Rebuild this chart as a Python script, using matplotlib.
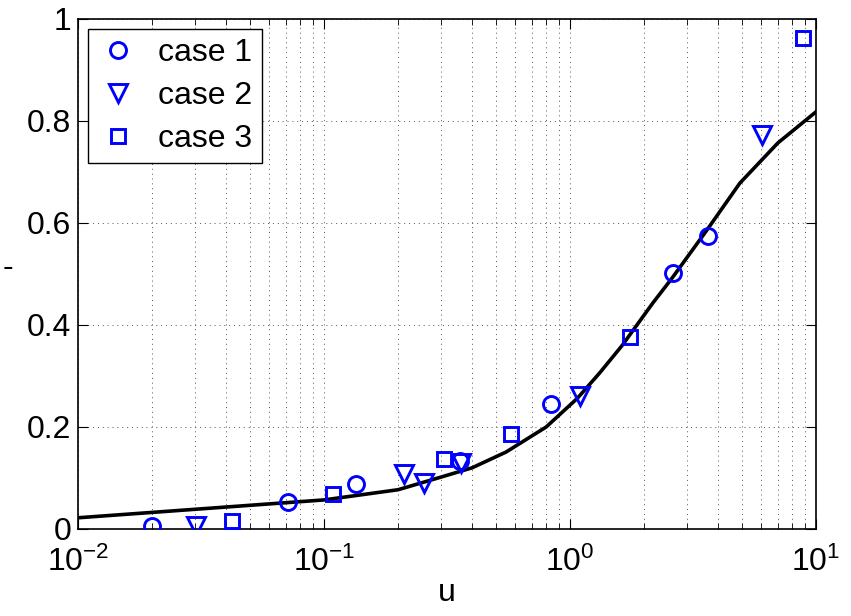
import numpy as np
import matplotlib
matplotlib.use("Agg")
import matplotlib.pyplot as plt
from matplotlib.ticker import LogLocator, NullFormatter

# ===================================================================
# Data
# ===================================================================

case1_u = [0.020, 0.0715, 0.135, 0.357, 0.837, 2.62, 3.64]
case1_y = [0.006, 0.053, 0.088, 0.133, 0.245, 0.502, 0.575]

case2_u = [0.0302, 0.211, 0.255, 0.360, 1.10, 6.03]
case2_y = [0.006, 0.108, 0.090, 0.130, 0.260, 0.773]

case3_u = [0.0423, 0.109, 0.308, 0.575, 1.75, 8.85]
case3_y = [0.016, 0.069, 0.137, 0.186, 0.376, 0.963]

model_u = [0.01, 0.1, 0.2, 0.3, 0.4, 0.55, 0.8, 1.07, 1.32, 1.63, 2.17,
           2.6, 3.6, 4.9, 7.0, 10.0]
model_y = [0.022, 0.057, 0.077, 0.102, 0.120, 0.151, 0.200, 0.256, 0.306,
           0.360, 0.443, 0.492, 0.586, 0.678, 0.757, 0.818]

xtick_vals = [1e-2, 1e-1, 1e0, 1e1]
xtick_labels = [r"$10^{-2}$", r"$10^{-1}$", r"$10^{0}$", r"$10^{1}$"]
ytick_vals = [0, 0.2, 0.4, 0.6, 0.8, 1]
ytick_labels = ["0", "0.2", "0.4", "0.6", "0.8", "1"]

# ===================================================================
# Style
# ===================================================================

plt.rcParams["font.family"] = ["Liberation Sans", "DejaVu Sans"]
plt.rcParams["mathtext.fontset"] = "custom"
plt.rcParams["mathtext.rm"] = "Liberation Sans"
plt.rcParams["mathtext.it"] = "Liberation Sans:italic"
plt.rcParams["mathtext.default"] = "regular"

blue = "#0000ff"
fs = 23

fig = plt.figure(figsize=(8.51, 6.16), dpi=100)
ax = fig.add_axes([78 / 851, 1 - 529 / 616, (816 - 78) / 851, (529 - 19) / 616])

ax.plot(model_u, model_y, color="black", lw=2.6, zorder=3)

mk = dict(linestyle="none", mfc="none", mec=blue, mew=2.1, zorder=4)
ax.plot(case1_u, case1_y, marker="o", ms=11.5, label="case 1", **mk)
ax.plot(case2_u, case2_y, marker="v", ms=13, label="case 2", **mk)
ax.plot(case3_u, case3_y, marker="s", ms=10, label="case 3", **mk)

ax.set_xscale("log")
ax.set_xlim(1e-2, 1e1)
ax.set_ylim(0, 1)

ax.set_xticks(xtick_vals)
ax.set_xticklabels(xtick_labels)
ax.xaxis.set_minor_locator(LogLocator(base=10, subs=np.arange(2, 10), numticks=20))
ax.xaxis.set_minor_formatter(NullFormatter())
ax.set_yticks(ytick_vals)
ax.set_yticklabels(ytick_labels)

ax.tick_params(which="both", direction="in", top=True, right=True, labelsize=fs)
ax.tick_params(which="major", length=7, width=0.8)
ax.tick_params(which="minor", length=4, width=0.6)
ax.tick_params(axis="x", which="major", pad=13)
ax.tick_params(axis="y", which="major", pad=5)

ax.grid(True, which="major", linestyle=(0, (1, 4)), color="#555555", lw=0.7)
ax.grid(True, which="minor", axis="x", linestyle=(0, (1, 4)), color="#555555", lw=0.7)

for sp in ax.spines.values():
    sp.set_linewidth(1.2)

ax.set_xlabel("u", fontsize=fs, labelpad=0)
fig.text(0.003, 1 - 268 / 616, "-", fontsize=fs, va="center", ha="left")

leg = ax.legend(loc="upper left", fontsize=fs, frameon=True, fancybox=False,
                edgecolor="black", borderpad=0.3, labelspacing=0.4,
                handlelength=1.3, handletextpad=0.6, borderaxespad=0.3)
leg.get_frame().set_linewidth(1.0)
leg.get_frame().set_alpha(1)

fig.savefig("out.png", dpi=100)
